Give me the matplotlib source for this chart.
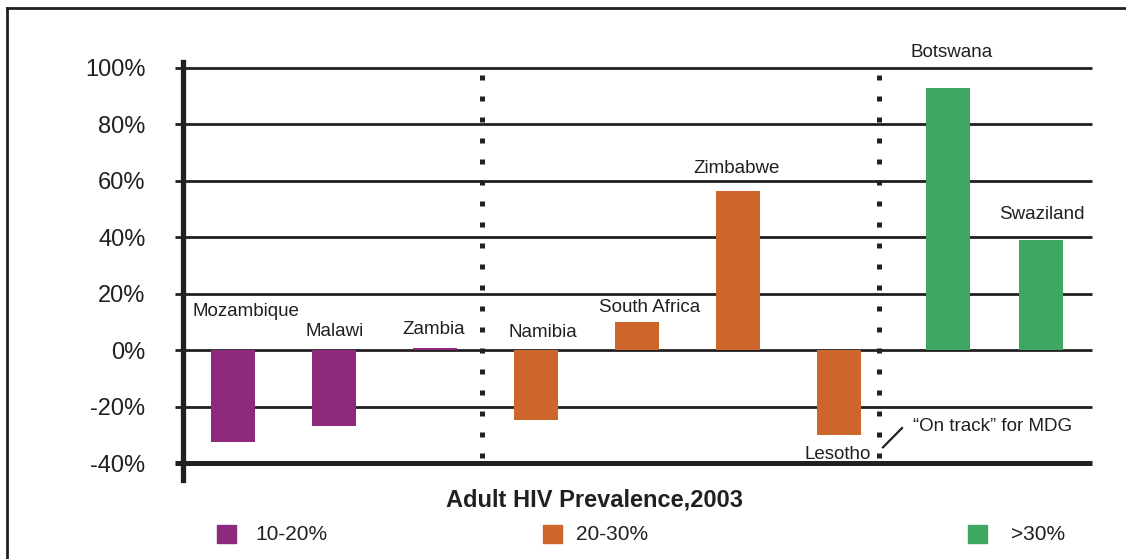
import matplotlib
matplotlib.use("Agg")
import matplotlib.pyplot as plt
import numpy as np
from matplotlib.lines import Line2D
from matplotlib.patches import Rectangle

plt.rcParams['font.family'] = ['Liberation Sans', 'DejaVu Sans']

countries = ['Mozambique', 'Malawi', 'Zambia', 'Namibia', 'South Africa',
             'Zimbabwe', 'Lesotho', 'Botswana', 'Swaziland']
change = [-32.5, -27, 0.6, -24.8, 10, 56.5, -30, 93, 39.2]
group = ['10-20%', '10-20%', '10-20%', '20-30%', '20-30%',
         '20-30%', '20-30%', '>30%', '>30%']
groups = ['10-20%', '20-30%', '>30%']
colors = {'10-20%': '#8e2a7b', '20-30%': '#cd662b', '>30%': '#3ea862'}
yticks = [-40, -20, 0, 20, 40, 60, 80, 100]

ink = '#231f20'
fig = plt.figure(figsize=(11.26, 5.59), dpi=100)
W, H = 1126, 559
ax = fig.add_axes([183 / W, 1 - 480 / H, (1093 - 183) / W, (480 - 62) / H])

x = np.arange(len(countries), dtype=float)
x[7] += 0.08  # Botswana sits a little right of the even spacing
ax.bar(x, change, width=0.436, color=[colors[g] for g in group], zorder=3)

ax.set_xlim(-0.495, 8.515)
ax.set_ylim(-46.0, 102.1)

# horizontal rules, the -40% one is the heavy baseline
for v in yticks:
    lw = 3.6 if v == -40 else 2.0
    ax.plot([-0.574, 8.51], [v, v], color=ink, lw=lw, solid_capstyle='butt',
            clip_on=False, zorder=2)

for s in ['top', 'right', 'bottom']:
    ax.spines[s].set_visible(False)
ax.spines['left'].set_linewidth(3.8)
ax.spines['left'].set_color(ink)
ax.spines['left'].set_zorder(4)

ax.set_xticks([])
ax.set_yticks(yticks)
ax.set_yticklabels([f'{v}%' for v in yticks], fontsize=17, color=ink)
ax.tick_params(axis='y', length=0, pad=27)

# dotted group separators
for sx in [2.465, 6.396]:
    ax.plot([sx, sx], [97.5, -40], color=ink, lw=3.6,
            linestyle=(0, (1, 3.2)), dash_capstyle='butt', zorder=2)

# country names
label_pos = [(0.13, 13.8), (1.01, 6.7), (1.99, 7.4), (3.07, 6.4), (4.13, 15.2),
             (4.99, 64.2), (5.99, -36.9), (7.12, 105.6), (8.01, 47.9)]
for name, (lx, ly) in zip(countries, label_pos):
    ax.text(lx, ly, name, fontsize=13.5, color=ink, ha='center', va='center',
            clip_on=False, zorder=5)

ax.text(6.73, -26.9, '\u201cOn track\u201d for MDG', fontsize=13.5, color=ink,
        ha='left', va='center', zorder=5)
ax.plot([6.436, 6.624], [-34.4, -27.6], color=ink, lw=1.6, zorder=5)

fig.text(595 / W, 1 - 500 / H, 'Adult HIV Prevalence,2003', fontsize=17,
         fontweight='bold', color=ink, ha='center', va='center')

# legend
legend_pos = [(217, 255), (543, 576), (968, 1011)]
for g, (bx, tx) in zip(groups, legend_pos):
    fig.patches.append(Rectangle((bx / W, 1 - 543 / H), 19 / W, 18 / H,
                                 transform=fig.transFigure, color=colors[g]))
    fig.text(tx / W, 1 - 535 / H, g, fontsize=15, color=ink,
             ha='left', va='center')

# outer frame (top and left edges)
fig.lines.append(Line2D([7 / W, 1], [1 - 8 / H, 1 - 8 / H],
                        transform=fig.transFigure, color=ink, lw=2))
fig.lines.append(Line2D([7 / W, 7 / W], [0, 1 - 8 / H],
                        transform=fig.transFigure, color=ink, lw=2))

fig.savefig('out.png', dpi=100)
